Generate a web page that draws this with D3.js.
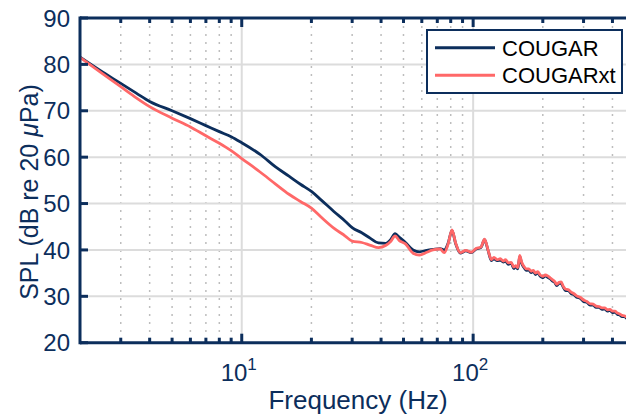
<!DOCTYPE html>
<html>
<head>
<meta charset="utf-8">
<script src="https://cdn.jsdelivr.net/npm/d3@7"></script>
<style>
  html, body { margin: 0; padding: 0; background: #ffffff; }
  svg { display: block; font-family: "Liberation Sans", Arial, Helvetica, sans-serif; }
</style>
</head>
<body>
<svg id="chart" width="626" height="417"></svg>
<script>
// ---- data ----
const freqHz = [2, 2.5, 3, 3.5, 4, 5, 6, 7, 8, 9, 10, 12, 14, 16, 18, 20, 22, 25, 28, 30, 33, 36, 39, 42, 44, 46, 48, 51, 55, 58.6, 63, 67, 72, 75, 78, 81, 84, 88, 93, 98, 103, 108,
  112, 116, 120, 123, 127, 131, 135, 138, 142, 146, 150, 153, 156, 159, 162, 166, 170, 174, 178, 182, 186, 190, 195, 200, 205, 210, 215, 220, 225, 230,
  235, 240, 245, 250, 258, 265, 272, 280, 290, 300, 310, 320, 330, 340, 350, 360, 370, 380, 390, 400, 410, 420, 430, 440, 450, 460];
const cougarSPL = [81.6, 78.4, 75.9, 73.8, 72.0, 70.0, 68.3, 66.8, 65.5, 64.4, 63.1, 60.6, 57.9, 55.9, 54.1, 52.6, 50.8, 48.3, 46.2, 44.8, 43.7, 42.5, 41.5, 41.4, 42.2, 43.5, 42.7, 41.6, 40.0, 39.6, 39.9, 40.1, 40.3, 40.0, 41.5, 44.2, 41.4, 39.3, 39.8, 39.4, 40.2, 40.5,
  42.2, 39.9, 37.7, 38.1, 37.7, 37.8, 37.4, 37.6, 36.9, 37.1, 36.0, 36.4, 35.9, 38.6, 37.1, 36.2, 35.6, 35.7, 35.1, 35.4, 34.7, 35.1, 34.3, 34.0, 34.4, 34.1, 33.8, 33.3, 33.0, 32.3,
  32.8, 32.8, 32.0, 31.3, 31.2, 30.6, 30.4, 29.8, 29.6, 28.9, 28.7, 28.1, 28.1, 27.6, 27.6, 27.2, 27.3, 26.8, 27.0, 26.5, 26.6, 26.1, 26.0, 25.6, 25.6, 25.2];
const cougarxtSPL = [81.5, 78.0, 75.2, 72.8, 70.9, 68.4, 66.5, 64.6, 63.0, 61.4, 59.7, 56.8, 54.2, 52.0, 50.4, 49.0, 47.1, 44.7, 43.0, 41.9, 41.6, 41.0, 40.5, 41.0, 41.8, 43.0, 42.0, 41.3, 39.3, 38.9, 39.5, 40.0, 40.2, 39.4, 41.3, 44.3, 41.5, 39.4, 39.9, 39.5, 40.3, 40.6,
  42.3, 40.0, 37.9, 38.4, 37.9, 38.1, 37.6, 37.9, 37.2, 37.3, 36.3, 36.6, 36.2, 38.8, 37.4, 36.4, 35.9, 35.9, 35.4, 35.6, 35.0, 35.3, 34.6, 34.3, 34.6, 34.4, 34.0, 33.6, 33.2, 32.6,
  33.0, 33.1, 32.2, 31.6, 31.4, 30.9, 30.6, 30.1, 29.8, 29.2, 28.9, 28.4, 28.3, 27.9, 27.8, 27.5, 27.5, 27.1, 27.2, 26.8, 26.8, 26.4, 26.2, 25.9, 25.8, 25.5];
const yTicks = [20, 30, 40, 50, 60, 70, 80, 90];
const xMajorTicks = [10, 100];
const xMinorTicks = [3, 4, 5, 6, 7, 8, 9, 20, 30, 40, 50, 60, 70, 80, 90, 200, 300, 400];
const seriesNames = ["COUGAR", "COUGARxt"];
const seriesColors = ["#0c2e5c", "#ff6868"];

// ---- layout ----
const svg = d3.select("#chart");
const L = 80, T = 18, B = 342.7;
const decade = 231.4;
const R = L + decade * Math.log10(500 / 2);
const x = d3.scaleLog().domain([2, 500]).range([L, R]);
const y = d3.scaleLinear().domain([20, 90]).range([B, T]);
const navy = "#0c2e5c";

// grid: minor vertical dotted
svg.append("g").selectAll("line").data(xMinorTicks).join("line")
  .attr("x1", d => x(d)).attr("x2", d => x(d))
  .attr("y1", T).attr("y2", B)
  .attr("stroke", "#bdbdbd").attr("stroke-width", 1.5)
  .attr("stroke-dasharray", "2,6");
// major grid
svg.append("g").selectAll("line").data(xMajorTicks).join("line")
  .attr("x1", d => x(d)).attr("x2", d => x(d))
  .attr("y1", T).attr("y2", B)
  .attr("stroke", "#dcdcdc").attr("stroke-width", 2);
svg.append("g").selectAll("line").data(yTicks.slice(1, -1)).join("line")
  .attr("x1", L).attr("x2", 626)
  .attr("y1", d => y(d)).attr("y2", d => y(d))
  .attr("stroke", "#dcdcdc").attr("stroke-width", 2);

// series
const seriesVals = [cougarSPL, cougarxtSPL];
const line = d3.line().x(d => x(d[0])).y(d => y(d[1])).curve(d3.curveMonotoneX);
seriesVals.forEach((vals, i) => {
  svg.append("path")
    .datum(freqHz.map((f, k) => [f, vals[k]]))
    .attr("fill", "none")
    .attr("stroke", seriesColors[i])
    .attr("stroke-width", 2.8)
    .attr("stroke-linejoin", "round")
    .attr("d", line);
});

// axes (MATLAB style, inward ticks)
const axisG = svg.append("g").attr("stroke", navy);
axisG.append("line").attr("x1", L).attr("x2", 626).attr("y1", B).attr("y2", B).attr("stroke-width", 3);
axisG.append("line").attr("x1", L).attr("x2", 626).attr("y1", T).attr("y2", T).attr("stroke-width", 3);
axisG.append("line").attr("x1", L).attr("x2", L).attr("y1", T - 1.5).attr("y2", B + 1.5).attr("stroke-width", 3);
// y ticks
axisG.selectAll(".yt").data(yTicks).join("line")
  .attr("x1", L).attr("x2", L + 8)
  .attr("y1", d => y(d)).attr("y2", d => y(d)).attr("stroke-width", 3);
// x ticks bottom & top
[[B, -1], [T, 1]].forEach(([yy, dir]) => {
  axisG.append("g").selectAll("line").data(xMinorTicks).join("line")
    .attr("x1", d => x(d)).attr("x2", d => x(d))
    .attr("y1", yy).attr("y2", yy + dir * 5).attr("stroke-width", 3);
  axisG.append("g").selectAll("line").data(xMajorTicks).join("line")
    .attr("x1", d => x(d)).attr("x2", d => x(d))
    .attr("y1", yy).attr("y2", yy + dir * 9).attr("stroke-width", 3);
});

// y tick labels
svg.append("g").selectAll("text").data(yTicks).join("text")
  .attr("x", L - 10).attr("y", d => y(d))
  .attr("dy", "0.36em")
  .attr("text-anchor", "end")
  .attr("font-size", 24)
  .attr("fill", navy)
  .text(d => d);

// x tick labels 10^n
const xl = svg.append("g").selectAll("text").data(xMajorTicks).join("text")
  .attr("x", d => x(d) - 3).attr("y", 380.5)
  .attr("text-anchor", "middle")
  .attr("font-size", 24)
  .attr("fill", navy);
xl.append("tspan").text("10");
xl.append("tspan").attr("dy", -11).attr("font-size", 17).text(d => Math.round(Math.log10(d)));

// axis titles
svg.append("text")
  .attr("x", 358).attr("y", 409)
  .attr("text-anchor", "middle")
  .attr("font-size", 26)
  .attr("fill", navy)
  .text("Frequency (Hz)");

const yl = svg.append("text")
  .attr("transform", "translate(38,192) rotate(-90)")
  .attr("text-anchor", "middle")
  .attr("font-size", 25)
  .attr("fill", navy);
yl.append("tspan").text("SPL (dB re 20 ");
yl.append("tspan").attr("font-style", "italic").text("\u03bc");
yl.append("tspan").text("Pa)");

// legend
const lg = svg.append("g");
lg.append("rect").attr("x", 427).attr("y", 30).attr("width", 195).attr("height", 63)
  .attr("fill", "#ffffff").attr("stroke", navy).attr("stroke-width", 2);
seriesNames.forEach((name, i) => {
  const cy = 47.7 + i * 27.5;
  lg.append("line").attr("x1", 435).attr("x2", 495).attr("y1", cy).attr("y2", cy)
    .attr("stroke", seriesColors[i]).attr("stroke-width", 3);
  lg.append("text").attr("x", 502).attr("y", cy).attr("dy", "0.36em")
    .attr("font-size", 22).attr("fill", "#000000").text(name);
});
</script>
</body>
</html>
